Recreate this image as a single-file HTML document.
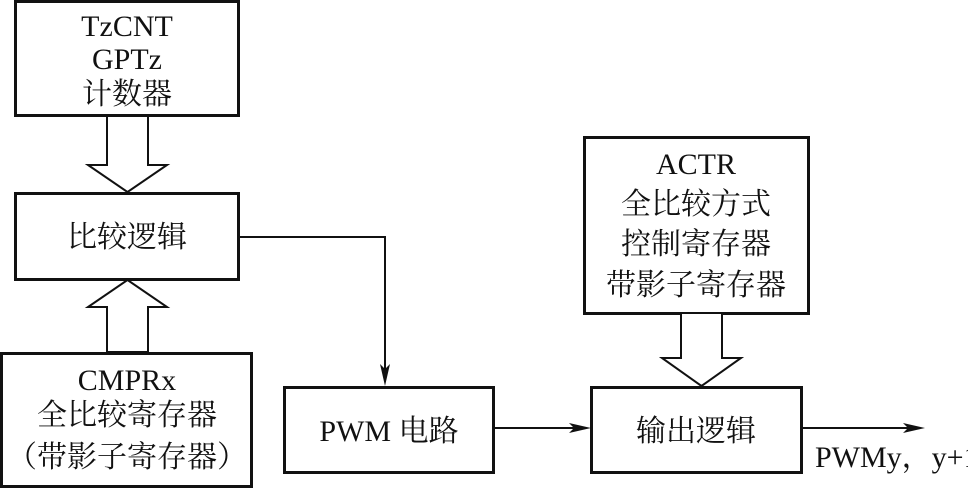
<!DOCTYPE html>
<html><head><meta charset="utf-8"><style>
html,body{margin:0;padding:0;background:#fff;}
svg{display:block;}
text{font-family:"Liberation Serif","Noto Serif CJK SC","Noto Sans CJK SC",serif;font-size:30px;fill:#111;text-anchor:middle;}
</style></head><body>
<svg width="968" height="489" viewBox="0 0 968 489" xmlns="http://www.w3.org/2000/svg">
<g fill="none" stroke="#111" stroke-width="3">
<rect x="15.5" y="1.5" width="223" height="114"/>
<rect x="15.5" y="193.5" width="223" height="86"/>
<rect x="1.5" y="353.5" width="250" height="133"/>
<rect x="284.5" y="387.5" width="209" height="85"/>
<rect x="591.5" y="387.5" width="210" height="85"/>
<rect x="584.5" y="137.5" width="224" height="176"/>
</g>
<g fill="#fff" stroke="#111" stroke-width="2">
<polygon points="107,116 148,116 148,165 167,165 127.5,192 88,165 107,165"/>
<polygon points="107,352 148,352 148,307 167,307 127.5,280 88,307 107,307"/>
<polygon points="681,313 722,313 722,358 741,358 701.5,386 662,358 681,358"/>
</g>
<g fill="none" stroke="#111" stroke-width="2">
<polyline points="240,237 385,237 385,372"/>
<line x1="493" y1="428" x2="578" y2="428"/>
<line x1="801" y1="428" x2="910" y2="428"/>
</g>
<g fill="#111">
<polygon points="385,386 380,364 385,369 390,364"/>
<polygon points="591,428 569,423 574,428 569,433"/>
<polygon points="925,428 903,423 908,428 903,433"/>
</g>
<text x="127" y="36">TzCNT</text>
<text x="127" y="69">GPTz</text>
<text x="127" y="104">计数器</text>
<text x="127" y="247">比较逻辑</text>
<text x="127" y="390">CMPRx</text>
<text x="127" y="425">全比较寄存器</text>
<text x="127" y="467">（带影子寄存器）</text>
<text x="389" y="441">PWM 电路</text>
<text x="696" y="441">输出逻辑</text>
<text x="696" y="174">ACTR</text>
<text x="696" y="214">全比较方式</text>
<text x="696" y="254">控制寄存器</text>
<text x="696" y="295">带影子寄存器</text>
<text x="815" y="467" style="text-anchor:start">PWMy，y+1</text>
</svg>
</body></html>
